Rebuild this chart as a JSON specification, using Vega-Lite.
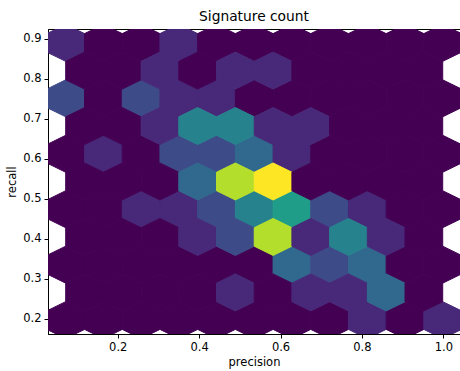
{
  "$schema": "https://vega.github.io/schema/vega-lite/v6.json",
  "autosize": {"type": "none"},
  "padding": {"left": 48, "top": 29, "right": 0, "bottom": 37},
  "width": 412,
  "height": 305,
  "background": "white",
  "config": {
    "font": "DejaVu Sans",
    "view": {"stroke": "black", "strokeWidth": 1},
    "axis": {"grid": false, "domainColor": "black", "tickColor": "black", "tickSize": 4, "labelFont": "DejaVu Sans", "labelFontSize": 11.5, "labelColor": "black", "titleFont": "DejaVu Sans", "titleFontSize": 11.5, "titleFontWeight": "normal", "titleColor": "black", "labelPadding": 3}
  },
  "title": {"text": "Signature count", "font": "DejaVu Sans", "fontSize": 13.8, "fontWeight": "normal", "color": "black", "offset": 5, "anchor": "middle"},
  "data": {"values": [
    {"p": 0.0722, "r": 0.1964, "n": 0}, {"p": 0.1648, "r": 0.1964, "n": 0}, {"p": 0.2575, "r": 0.1964, "n": 0}, {"p": 0.3501, "r": 0.1964, "n": 0}, {"p": 0.4427, "r": 0.1964, "n": 0}, {"p": 0.5354, "r": 0.1964, "n": 0}, {"p": 0.628, "r": 0.1964, "n": 0}, {"p": 0.7206, "r": 0.1964, "n": 0}, {"p": 0.8132, "r": 0.1964, "n": 1}, {"p": 0.9059, "r": 0.1964, "n": 0}, {"p": 0.9985, "r": 0.1964, "n": 1},
    {"p": 0.0722, "r": 0.3352, "n": 0}, {"p": 0.1648, "r": 0.3352, "n": 0}, {"p": 0.2575, "r": 0.3352, "n": 0}, {"p": 0.3501, "r": 0.3352, "n": 0}, {"p": 0.4427, "r": 0.3352, "n": 0}, {"p": 0.5354, "r": 0.3352, "n": 0}, {"p": 0.628, "r": 0.3352, "n": 3}, {"p": 0.7206, "r": 0.3352, "n": 2}, {"p": 0.8132, "r": 0.3352, "n": 3}, {"p": 0.9059, "r": 0.3352, "n": 0}, {"p": 0.9985, "r": 0.3352, "n": 0},
    {"p": 0.0722, "r": 0.474, "n": 0}, {"p": 0.1648, "r": 0.474, "n": 0}, {"p": 0.2575, "r": 0.474, "n": 1}, {"p": 0.3501, "r": 0.474, "n": 1}, {"p": 0.4427, "r": 0.474, "n": 2}, {"p": 0.5354, "r": 0.474, "n": 4}, {"p": 0.628, "r": 0.474, "n": 5}, {"p": 0.7206, "r": 0.474, "n": 2}, {"p": 0.8132, "r": 0.474, "n": 1}, {"p": 0.9059, "r": 0.474, "n": 0}, {"p": 0.9985, "r": 0.474, "n": 0},
    {"p": 0.0722, "r": 0.6127, "n": 0}, {"p": 0.1648, "r": 0.6127, "n": 1}, {"p": 0.2575, "r": 0.6127, "n": 0}, {"p": 0.3501, "r": 0.6127, "n": 2}, {"p": 0.4427, "r": 0.6127, "n": 2}, {"p": 0.5354, "r": 0.6127, "n": 3}, {"p": 0.628, "r": 0.6127, "n": 1}, {"p": 0.7206, "r": 0.6127, "n": 0}, {"p": 0.8132, "r": 0.6127, "n": 0}, {"p": 0.9059, "r": 0.6127, "n": 0}, {"p": 0.9985, "r": 0.6127, "n": 0},
    {"p": 0.0722, "r": 0.7515, "n": 2}, {"p": 0.1648, "r": 0.7515, "n": 0}, {"p": 0.2575, "r": 0.7515, "n": 2}, {"p": 0.3501, "r": 0.7515, "n": 1}, {"p": 0.4427, "r": 0.7515, "n": 1}, {"p": 0.5354, "r": 0.7515, "n": 0}, {"p": 0.628, "r": 0.7515, "n": 0}, {"p": 0.7206, "r": 0.7515, "n": 0}, {"p": 0.8132, "r": 0.7515, "n": 0}, {"p": 0.9059, "r": 0.7515, "n": 0}, {"p": 0.9985, "r": 0.7515, "n": 0},
    {"p": 0.0722, "r": 0.8903, "n": 1}, {"p": 0.1648, "r": 0.8903, "n": 0}, {"p": 0.2575, "r": 0.8903, "n": 0}, {"p": 0.3501, "r": 0.8903, "n": 1}, {"p": 0.4427, "r": 0.8903, "n": 0}, {"p": 0.5354, "r": 0.8903, "n": 0}, {"p": 0.628, "r": 0.8903, "n": 0}, {"p": 0.7206, "r": 0.8903, "n": 0}, {"p": 0.8132, "r": 0.8903, "n": 0}, {"p": 0.9059, "r": 0.8903, "n": 0}, {"p": 0.9985, "r": 0.8903, "n": 0},
    {"p": 0.1185, "r": 0.2658, "n": 0}, {"p": 0.2111, "r": 0.2658, "n": 0}, {"p": 0.3038, "r": 0.2658, "n": 0}, {"p": 0.3964, "r": 0.2658, "n": 0}, {"p": 0.489, "r": 0.2658, "n": 1}, {"p": 0.5817, "r": 0.2658, "n": 0}, {"p": 0.6743, "r": 0.2658, "n": 1}, {"p": 0.7669, "r": 0.2658, "n": 1}, {"p": 0.8596, "r": 0.2658, "n": 3}, {"p": 0.9522, "r": 0.2658, "n": 0},
    {"p": 0.1185, "r": 0.4046, "n": 0}, {"p": 0.2111, "r": 0.4046, "n": 0}, {"p": 0.3038, "r": 0.4046, "n": 0}, {"p": 0.3964, "r": 0.4046, "n": 1}, {"p": 0.489, "r": 0.4046, "n": 2}, {"p": 0.5817, "r": 0.4046, "n": 8}, {"p": 0.6743, "r": 0.4046, "n": 1}, {"p": 0.7669, "r": 0.4046, "n": 4}, {"p": 0.8596, "r": 0.4046, "n": 1}, {"p": 0.9522, "r": 0.4046, "n": 0},
    {"p": 0.1185, "r": 0.5434, "n": 0}, {"p": 0.2111, "r": 0.5434, "n": 0}, {"p": 0.3038, "r": 0.5434, "n": 0}, {"p": 0.3964, "r": 0.5434, "n": 3}, {"p": 0.489, "r": 0.5434, "n": 8}, {"p": 0.5817, "r": 0.5434, "n": 9}, {"p": 0.6743, "r": 0.5434, "n": 0}, {"p": 0.7669, "r": 0.5434, "n": 0}, {"p": 0.8596, "r": 0.5434, "n": 0}, {"p": 0.9522, "r": 0.5434, "n": 0},
    {"p": 0.1185, "r": 0.6821, "n": 0}, {"p": 0.2111, "r": 0.6821, "n": 0}, {"p": 0.3038, "r": 0.6821, "n": 1}, {"p": 0.3964, "r": 0.6821, "n": 4}, {"p": 0.489, "r": 0.6821, "n": 4}, {"p": 0.5817, "r": 0.6821, "n": 1}, {"p": 0.6743, "r": 0.6821, "n": 1}, {"p": 0.7669, "r": 0.6821, "n": 0}, {"p": 0.8596, "r": 0.6821, "n": 0}, {"p": 0.9522, "r": 0.6821, "n": 0},
    {"p": 0.1185, "r": 0.8209, "n": 0}, {"p": 0.2111, "r": 0.8209, "n": 0}, {"p": 0.3038, "r": 0.8209, "n": 1}, {"p": 0.3964, "r": 0.8209, "n": 0}, {"p": 0.489, "r": 0.8209, "n": 1}, {"p": 0.5817, "r": 0.8209, "n": 1}, {"p": 0.6743, "r": 0.8209, "n": 0}, {"p": 0.7669, "r": 0.8209, "n": 0}, {"p": 0.8596, "r": 0.8209, "n": 0}, {"p": 0.9522, "r": 0.8209, "n": 0}
  ]},
  "mark": {
    "type": "point",
    "shape": "M0,-0.9814 L1,-0.4907 L1,0.4907 L0,0.9814 L-1,0.4907 L-1,-0.4907 Z",
    "size": 1421,
    "filled": true,
    "opacity": 1,
    "strokeWidth": 1,
    "strokeOpacity": 1,
    "clip": true
  },
  "encoding": {
    "x": {"field": "p", "type": "quantitative", "title": "precision",
      "scale": {"domain": [0.0287, 1.041], "nice": false, "zero": false},
      "axis": {"values": [0.2, 0.4, 0.6, 0.8, 1.0], "format": ".1f", "titlePadding": 4}},
    "y": {"field": "r", "type": "quantitative", "title": "recall",
      "scale": {"domain": [0.1617, 0.925], "nice": false, "zero": false},
      "axis": {"values": [0.2, 0.3, 0.4, 0.5, 0.6, 0.7, 0.8, 0.9], "format": ".1f", "titlePadding": 5}},
    "color": {"field": "n", "type": "quantitative", "scale": {"scheme": "viridis", "domain": [0, 9]}, "legend": null},
    "stroke": {"field": "n", "type": "quantitative", "scale": {"scheme": "viridis", "domain": [0, 9]}, "legend": null}
  }
}
